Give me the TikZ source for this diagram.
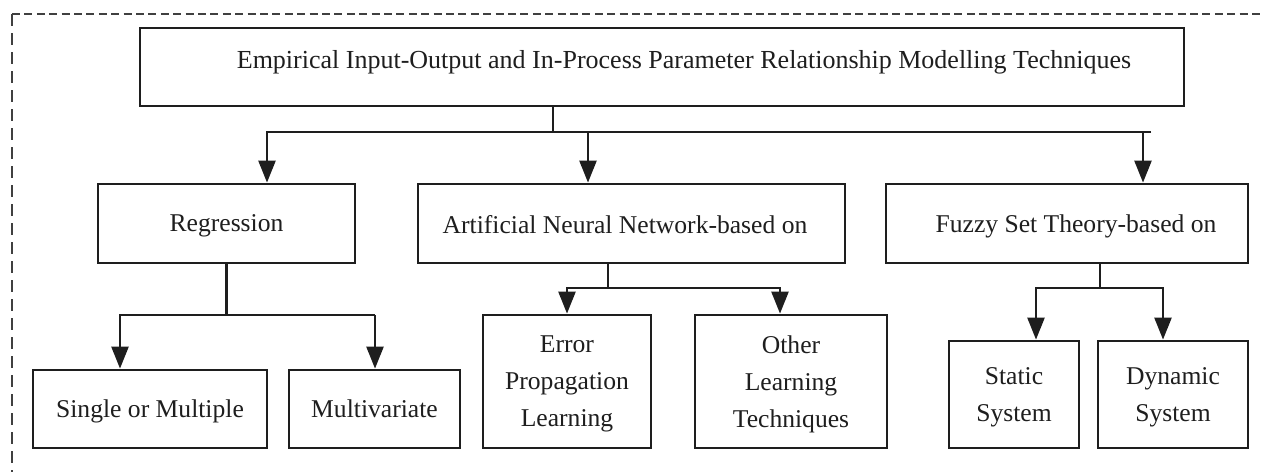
\documentclass[tikz,border=0pt]{standalone}
\usepackage{fontspec}
\setmainfont{Liberation Serif}
\usetikzlibrary{arrows.meta}
\definecolor{ink}{HTML}{1E1E1E}
\tikzset{
  box/.style={draw=ink, line width=1.4pt, inner sep=0pt, align=center, text=ink,
    text depth=0pt, font=\fontsize{12.8}{18.5}\selectfont},
  lbl/.style={inner sep=0pt, text=ink, text depth=0pt, font=\fontsize{12.8}{18.5}\selectfont},
  conn/.style={draw=ink, line width=1.2pt},
  arr/.style={conn, -{Triangle[length=11pt,width=8.5pt]}},
  hframe/.style={draw=ink!85, line width=1pt, dash pattern=on 4pt off 2.2pt},
  vframe/.style={draw=ink!85, line width=1pt, dash pattern=on 6pt off 3.5pt}
}
\begin{document}
\begin{tikzpicture}[x=0.5pt,y=-0.5pt]
\useasboundingbox (0,0) rectangle (1264,472);
\fill[white] (0,0) rectangle (1264,472);
% dashed frame (only top and left visible)
\coordinate (fc) at (12,14);
\coordinate (fb) at (12,472);
\coordinate (fr) at (1264,14);
\draw[hframe] (fc) -- (fr);
\draw[vframe] (fc) -- (fb);

% boxes
\node[box, minimum width=522pt, minimum height=39pt] (top) at (662,67) {};
\node[lbl, font=\fontsize{13}{18.5}\selectfont] (toptxt) at (684,59) {Empirical Input-Output and In-Process Parameter Relationship Modelling Techniques};

\node[box, minimum width=128.5pt, minimum height=39.5pt] (reg) at (226.5,223.5) {Regression};
\node[box, minimum width=213.5pt, minimum height=39.5pt] (ann) at (631.5,223.5) {};
\node[lbl] (anntxt) at (625,224) {Artificial Neural Network-based on};
\node[box, minimum width=181pt, minimum height=39.5pt] (fuz) at (1067,223.5) {};
\node[lbl] (fuztxt) at (1076,224) {Fuzzy Set Theory-based on};

\node[box, minimum width=117pt, minimum height=39pt] (single) at (150,409) {Single or Multiple};
\node[box, minimum width=85.5pt, minimum height=39pt] (multi) at (374.5,409) {Multivariate};

\node[box, minimum width=84pt, minimum height=66.5pt] (err) at (567,381.5) {Error\\Propagation\\Learning};
\node[box, minimum width=96pt, minimum height=66.5pt] (oth) at (791,381.5) {Other\\Learning\\Techniques};

\node[box, minimum width=65pt, minimum height=53.5pt] (stat) at (1014,394.5) {Static\\System};
\node[box, minimum width=75pt, minimum height=53.5pt] (dyn) at (1173,394.5) {Dynamic\\System};

% junction coordinates
\coordinate (tj) at (553,132);
\coordinate (a1) at (267,132);
\coordinate (a2) at (588,132);
\coordinate (a3) at (1143,132);
\coordinate (ae) at (1151,132);

\coordinate (b1) at (120,315);
\coordinate (b2) at (375,315);

\coordinate (c0) at (608,288);
\coordinate (c1) at (567,288);
\coordinate (c2) at (780,288);

\coordinate (d0) at (1100,288);
\coordinate (d1) at (1036,288);
\coordinate (d2) at (1163,288);

% top level
\draw[conn] (top.south -| tj) -- (tj);
\draw[arr] (ae) -- (a1) -- (a1 |- reg.north);
\draw[arr] (a2) -- (a2 |- ann.north);
\draw[arr] (a3) -- (a3 |- fuz.north);

% regression branch
\draw[conn] (reg.south) -- (reg.south |- b1);
\draw[arr] (b2 |- b1) -- (b1) -- (b1 |- single.north);
\draw[arr] (b1 -| b2) -- (b2) -- (b2 |- multi.north);

% ANN branch
\draw[conn] (ann.south -| c0) -- (c0);
\draw[arr] (c2) -- (c1) -- (c1 |- err.north);
\draw[arr] (c1) -- (c2) -- (c2 |- oth.north);

% fuzzy branch
\draw[conn] (fuz.south -| d0) -- (d0);
\draw[arr] (d2) -- (d1) -- (d1 |- stat.north);
\draw[arr] (d1) -- (d2) -- (d2 |- dyn.north);
\end{tikzpicture}
\end{document}
